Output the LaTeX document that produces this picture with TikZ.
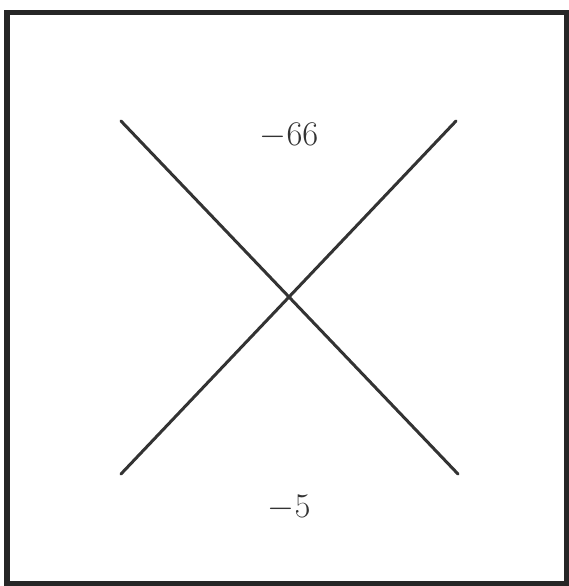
\documentclass[tikz,border=0pt]{standalone}
\usepackage{tikz}
\usetikzlibrary{positioning}
\tikzset{
  frame/.style={draw=black!85, line width=2.6pt},
  cross/.style={draw=black!80, line width=1.5pt, line cap=round},
  value/.style={inner sep=0pt, font=\fontsize{17.5}{20}\selectfont, text=black!80}
}

\begin{document}
\begin{tikzpicture}[x=0.5pt, y=-0.5pt]
  \useasboundingbox (0,0) rectangle (569,586);
  \draw[frame] (7,12.5) rectangle (567,584);

  \coordinate (tl) at (121,121);
  \coordinate (tr) at (456,121);
  \coordinate (bl) at (121,474);
  \coordinate (br) at (458,474);

  \node[value] (top) at (289,136) {$-66$};
  \node[value] (bottom) at (289,508) {$-5$};

  \draw[cross] (tl) -- (br);
  \draw[cross] (tr) -- (bl);
\end{tikzpicture}
\end{document}
